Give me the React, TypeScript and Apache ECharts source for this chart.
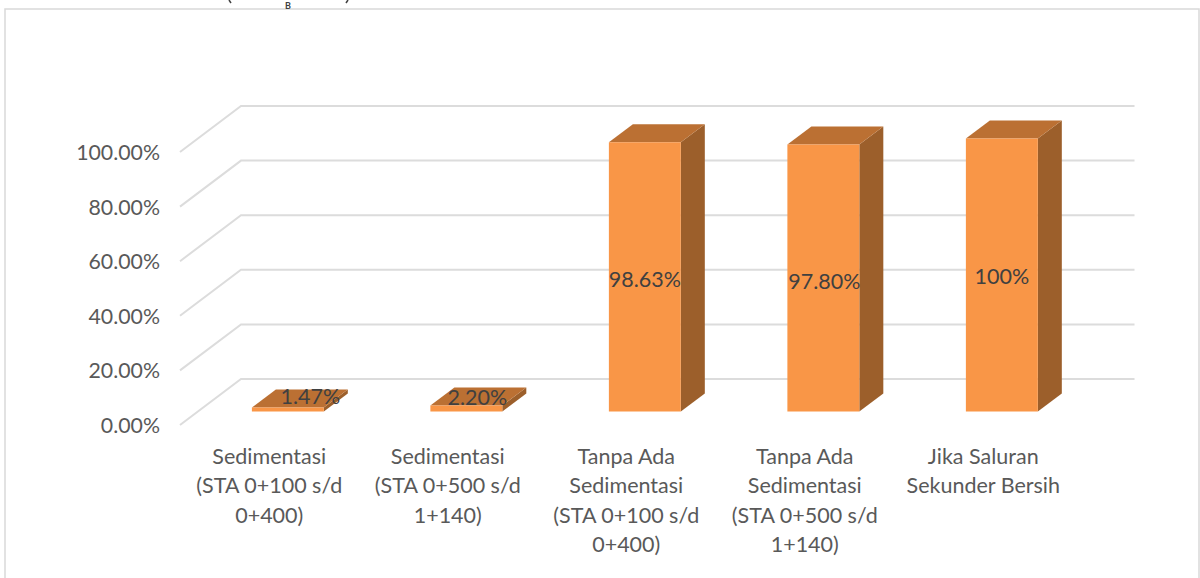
import React, { useEffect, useRef } from "react";
import * as echarts from "echarts";

const categories = [
  "Sedimentasi\n(STA 0+100 s/d\n0+400)",
  "Sedimentasi\n(STA 0+500 s/d\n1+140)",
  "Tanpa Ada\nSedimentasi\n(STA 0+100 s/d\n0+400)",
  "Tanpa Ada\nSedimentasi\n(STA 0+500 s/d\n1+140)",
  "Jika Saluran\nSekunder Bersih",
];
const values = [1.47, 2.2, 98.63, 97.8, 100];
const valueLabels = ["1.47%", "2.20%", "98.63%", "97.80%", "100%"];
const gridTicks = [0, 20, 40, 60, 80, 100];

const FONT = "Lato, 'Open Sans', sans-serif";
const WALL_DX = 61;
const WALL_DY = -46;
const BAR_OFFSET_DX = 18.6;
const BAR_OFFSET_DY = -13.5;
const BAR_DEPTH_DX = 24;
const BAR_DEPTH_DY = -18;
const LABEL_SHIFT = [
  [22.5, -13.5],
  [11, -11.5],
  [0, 2.5],
  [1, 2.5],
  [0, 0.5],
];

function renderGrid(params: any, api: any) {
  const v = api.value(1);
  const [cx, y] = api.coord([0, v]);
  const band = api.size([1, 0])[0];
  const left = cx - band / 2;
  const right = left + band * categories.length;
  return {
    type: "polyline",
    silent: true,
    shape: {
      points: [
        [left, y],
        [left + WALL_DX, y + WALL_DY],
        [right + WALL_DX + 1, y + WALL_DY],
      ],
    },
    style: { fill: "none", stroke: "#dcdcdc", lineWidth: 2 },
  };
}

function renderBar(params: any, api: any) {
  const idx = api.value(0);
  const val = api.value(1);
  const [cx0, y0] = api.coord([idx, 0]);
  const [, y1] = api.coord([idx, val]);
  const band = api.size([1, 0])[0];
  const w = band * 0.403;
  const xl = cx0 + BAR_OFFSET_DX - w / 2;
  const xr = xl + w;
  const yb = y0 + BAR_OFFSET_DY;
  const yt = y1 + BAR_OFFSET_DY;
  const dx = BAR_DEPTH_DX;
  const dy = BAR_DEPTH_DY;
  const shift = LABEL_SHIFT[idx];
  return {
    type: "group",
    children: [
      {
        type: "polygon",
        shape: { points: [[xr, yb], [xr + dx, yb + dy], [xr + dx, yt + dy], [xr, yt]] },
        style: { fill: "#9c5f2b" },
      },
      {
        type: "polygon",
        shape: { points: [[xl, yt], [xl + dx, yt + dy], [xr + dx, yt + dy], [xr, yt]] },
        style: { fill: "#bb7033" },
      },
      {
        type: "rect",
        shape: { x: xl, y: yt, width: w, height: yb - yt },
        style: { fill: "#f99647" },
      },
      {
        type: "text",
        z2: 10,
        style: {
          text: valueLabels[idx],
          x: xl + w / 2 + shift[0],
          y: (yt + yb) / 2 + shift[1],
          align: "center",
          verticalAlign: "middle",
          fill: "#404040",
          font: `21.5px ${FONT}`,
        },
      },
    ],
  };
}

export default function App() {
  const ref = useRef<HTMLDivElement>(null);
  useEffect(() => {
    document.body.style.margin = "0";
    const chart = echarts.init(ref.current!, undefined, { renderer: "svg" });
    chart.setOption({
      animation: false,
      backgroundColor: "#ffffff",
      graphic: [
        {
          type: "rect",
          silent: true,
          shape: { x: 5, y: 9, width: 1194, height: 620 },
          style: { fill: "none", stroke: "#d9d9d9", lineWidth: 1.5 },
        },
        {
          type: "text",
          silent: true,
          style: { text: "B", x: 288, y: 5, align: "center", verticalAlign: "middle", fill: "#404040", font: `bold 9px ${FONT}` },
        },
        {
          type: "polyline",
          silent: true,
          shape: { points: [[229, 0], [231, 3]] },
          style: { fill: "none", stroke: "#404040", lineWidth: 1.5 },
        },
        {
          type: "polyline",
          silent: true,
          shape: { points: [[348, 0], [346, 3]] },
          style: { fill: "none", stroke: "#404040", lineWidth: 1.5 },
        },
      ],
      grid: { left: 180, top: 152, width: 892.5, height: 273 },
      xAxis: {
        type: "category",
        data: categories,
        axisLine: { show: false },
        axisTick: { show: false },
        splitLine: { show: false },
        axisLabel: {
          interval: 0,
          color: "#595959",
          fontFamily: FONT,
          fontSize: 21.5,
          lineHeight: 29.5,
          margin: 16,
          align: "center",
          verticalAlign: "top",
        },
      },
      yAxis: {
        type: "value",
        min: 0,
        max: 100,
        interval: 20,
        axisLine: { show: false },
        axisTick: { show: false },
        splitLine: { show: false },
        axisLabel: {
          color: "#595959",
          fontFamily: FONT,
          fontSize: 21.3,
          margin: 20,
          formatter: (v: number) => `${v.toFixed(2)}%`,
        },
      },
      series: [
        {
          type: "custom",
          clip: false,
          silent: true,
          z: 1,
          renderItem: renderGrid,
          encode: { x: 0, y: 1 },
          data: gridTicks.map((t) => [0, t]),
        },
        {
          type: "custom",
          clip: false,
          z: 2,
          renderItem: renderBar,
          encode: { x: 0, y: 1 },
          data: values.map((v, i) => [i, v]),
        },
      ],
    });
    return () => chart.dispose();
  }, []);
  return <div ref={ref} style={{ width: 1200, height: 578 }} />;
}
